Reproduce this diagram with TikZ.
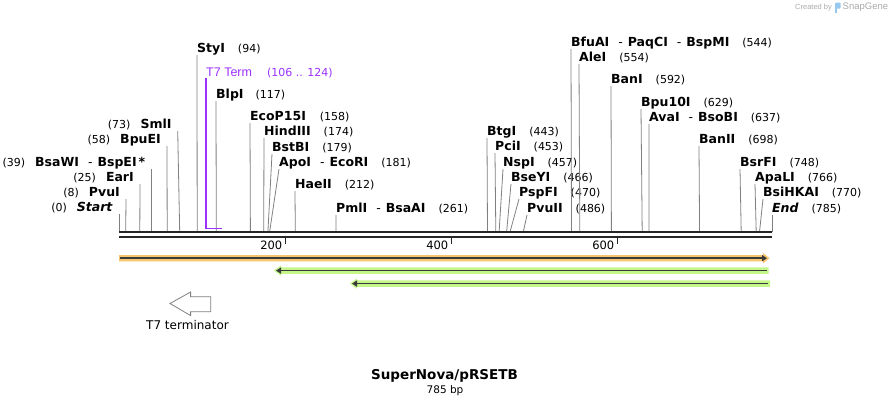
\documentclass[tikz,border=0pt]{standalone}
\usepackage{fontspec}
\setmainfont{DejaVu Sans}
\newfontfamily\featfont{Liberation Sans}
\usetikzlibrary{arrows.meta}

\definecolor{cutgray}{RGB}{128,128,128}
\definecolor{barline}{RGB}{58,58,58}
\definecolor{termpurple}{RGB}{155,48,255}
\definecolor{orfshade}{RGB}{247,196,110}
\definecolor{primershade}{RGB}{196,246,138}
\definecolor{logogray}{RGB}{170,170,170}
\definecolor{logoblue}{RGB}{150,200,240}

\newcommand{\bp}[1]{{\fontsize{11}{13}\selectfont(#1)}}
\newcommand{\ez}[1]{\textbf{#1}}

\tikzset{
    site/.style={anchor=south west, inner xsep=0pt, inner ysep=2pt,
        text depth=0pt, font=\fontsize{12.5}{14}\selectfont},
    lsite/.style={site, anchor=south east, inner xsep=6pt},
    cut/.style={draw=cutgray, line width=0.8pt},
    backbone/.style={draw=black!85, line width=2pt},
    tick/.style={draw=black!85, line width=1.6pt},
    ticklabel/.style={anchor=east, inner sep=0pt, font=\fontsize{11.5}{13}\selectfont},
    featline/.style={draw=barline, line width=1.6pt}
}

\begin{document}
\begin{tikzpicture}[x=1pt, y=-1pt]
    \useasboundingbox (0,0) rectangle (892,407);

    \coordinate (s0)   at (119.0,232);
    \coordinate (s8)   at (125.7,232);
    \coordinate (s25)  at (139.8,232);
    \coordinate (s39)  at (151.4,232);
    \coordinate (s58)  at (167.2,232);
    \coordinate (s73)  at (179.7,232);
    \coordinate (s94)  at (197.2,232);
    \coordinate (s117) at (216.3,232);
    \coordinate (s158) at (250.4,232);
    \coordinate (s174) at (263.7,232);
    \coordinate (s179) at (267.9,232);
    \coordinate (s181) at (269.6,232);
    \coordinate (s212) at (295.3,232);
    \coordinate (s261) at (336.1,232);
    \coordinate (s443) at (487.5,232);
    \coordinate (s453) at (495.8,232);
    \coordinate (s457) at (499.1,232);
    \coordinate (s466) at (506.6,232);
    \coordinate (s470) at (510.0,232);
    \coordinate (s486) at (523.3,232);
    \coordinate (s544) at (571.5,232);
    \coordinate (s554) at (579.8,232);
    \coordinate (s592) at (611.4,232);
    \coordinate (s629) at (642.2,232);
    \coordinate (s637) at (648.9,232);
    \coordinate (s698) at (699.6,232);
    \coordinate (s748) at (741.2,232);
    \coordinate (s766) at (756.2,232);
    \coordinate (s770) at (759.5,232);
    \coordinate (s785) at (772.0,232);

    \node[lsite] (start) at (119,214)   {\bp{0}\hspace{10pt}\textbf{\itshape Start}};
    \node[lsite] (pvuI)  at (126,199)   {\bp{8}\hspace{10pt}\ez{PvuI}};
    \node[lsite] (earI)  at (140,184)   {\bp{25}\hspace{10pt}\ez{EarI}};
    \node[lsite] (bsaWI) at (151.5,169) {\bp{39}\hspace{10pt}\ez{BsaWI}\hspace{9pt}-\hspace{5pt}\ez{BspEI}\,\ez{*}};
    \node[lsite] (bpuEI) at (167,146)   {\bp{58}\hspace{10pt}\ez{BpuEI}};
    \node[lsite] (smlI)  at (177.7,131) {\bp{73}\hspace{10pt}\ez{SmlI}};

    \node[site] (styI)    at (197,55)  {\ez{StyI}\hspace{13pt}\bp{94}};
    \node[site] (blpI)    at (216,101) {\ez{BlpI}\hspace{12pt}\bp{117}};
    \node[site] (ecoP)    at (250,123) {\ez{EcoP15I}\hspace{14pt}\bp{158}};
    \node[site] (hindIII) at (264,138) {\ez{HindIII}\hspace{13pt}\bp{174}};
    \node[site] (bstBI)   at (272,154) {\ez{BstBI}\hspace{13pt}\bp{179}};
    \node[site] (apoI)    at (279,169) {\ez{ApoI}\hspace{9pt}-\hspace{5pt}\ez{EcoRI}\hspace{13pt}\bp{181}};
    \node[site] (haeII)   at (295,191) {\ez{HaeII}\hspace{13pt}\bp{212}};
    \node[site] (pmlI)    at (336,215) {\ez{PmlI}\hspace{9pt}-\hspace{5pt}\ez{BsaAI}\hspace{13pt}\bp{261}};
    \node[site] (btgI)    at (487,138) {\ez{BtgI}\hspace{13pt}\bp{443}};
    \node[site] (pciI)    at (495,153) {\ez{PciI}\hspace{13pt}\bp{453}};
    \node[site] (nspI)    at (503,169) {\ez{NspI}\hspace{13pt}\bp{457}};
    \node[site] (bseYI)   at (511,184) {\ez{BseYI}\hspace{13pt}\bp{466}};
    \node[site] (pspFI)   at (519,199) {\ez{PspFI}\hspace{13pt}\bp{470}};
    \node[site] (pvuII)   at (527,215) {\ez{PvuII}\hspace{13pt}\bp{486}};
    \node[site] (bfuAI)   at (571,49)  {\ez{BfuAI}\hspace{9pt}-\hspace{5pt}\ez{PaqCI}\hspace{9pt}-\hspace{5pt}\ez{BspMI}\hspace{13pt}\bp{544}};
    \node[site] (aleI)    at (579,64)  {\ez{AleI}\hspace{13pt}\bp{554}};
    \node[site] (banI)    at (611,86)  {\ez{BanI}\hspace{13pt}\bp{592}};
    \node[site] (bpu10I)  at (641,109) {\ez{Bpu10I}\hspace{13pt}\bp{629}};
    \node[site] (avaI)    at (649,124) {\ez{AvaI}\hspace{9pt}-\hspace{5pt}\ez{BsoBI}\hspace{13pt}\bp{637}};
    \node[site] (banII)   at (699,146) {\ez{BanII}\hspace{13pt}\bp{698}};
    \node[site] (bsrFI)   at (740,169) {\ez{BsrFI}\hspace{13pt}\bp{748}};
    \node[site] (apaLI)   at (755,184) {\ez{ApaLI}\hspace{13pt}\bp{766}};
    \node[site] (bsiHKAI) at (763,199) {\ez{BsiHKAI}\hspace{13pt}\bp{770}};
    \node[site] (end)     at (772,215) {\textbf{\itshape End}\hspace{13pt}\bp{785}};

    \draw[cut] (start.south east) -- (s0);
    \draw[cut] (pvuI.south east)  -- (s8);
    \draw[cut] (earI.south east)  -- (s25);
    \draw[cut] (bsaWI.south east) -- (s39);
    \draw[cut] (bpuEI.south east) -- (s58);
    \draw[cut] (smlI.south east)  -- (s73);
    \draw[cut] (styI.south west)    -- (s94);
    \draw[cut] (blpI.south west)    -- (s117);
    \draw[cut] (ecoP.south west)    -- (s158);
    \draw[cut] (hindIII.south west) -- (s174);
    \draw[cut] (bstBI.south west)   -- (s179);
    \draw[cut] (apoI.south west)    -- (s181);
    \draw[cut] (haeII.south west)   -- (s212);
    \draw[cut] (pmlI.south west)    -- (s261);
    \draw[cut] (btgI.south west)    -- (s443);
    \draw[cut] (pciI.south west)    -- (s453);
    \draw[cut] (nspI.south west)    -- (s457);
    \draw[cut] (bseYI.south west)   -- (s466);
    \draw[cut] (pspFI.south west)   -- (s470);
    \draw[cut] (pvuII.south west)   -- (s486);
    \draw[cut] (bfuAI.south west)   -- (s544);
    \draw[cut] (aleI.south west)    -- (s554);
    \draw[cut] (banI.south west)    -- (s592);
    \draw[cut] (bpu10I.south west)  -- (s629);
    \draw[cut] (avaI.south west)    -- (s637);
    \draw[cut] (banII.south west)   -- (s698);
    \draw[cut] (bsrFI.south west)   -- (s748);
    \draw[cut] (apaLI.south west)   -- (s766);
    \draw[cut] (bsiHKAI.south west) -- (s770);
    \draw[cut] (end.south west)     -- (s785);

    \node[site, text=termpurple, inner ysep=1.5pt] (t7term) at (206,78)
        {{\featfont T7 Term}\hspace{15pt}\bp{106 .. 124}};
    \coordinate (t7corner) at (206,228.5);
    \coordinate (t7stop) at (222.2,228.5);
    \draw[termpurple, line width=1.6pt] (t7term.south west) -- (t7corner) -- (t7stop);

    \draw[backbone] (119,232.3) -- (772,232.3);
    \draw[backbone] (119,236.6) -- (772,236.6);

    \coordinate (t200) at (285.4,237);
    \coordinate (t400) at (451.4,237);
    \coordinate (t600) at (617.5,237);
    \draw[tick] (t200) -- ++(0,6.5);
    \draw[tick] (t400) -- ++(0,6.5);
    \draw[tick] (t600) -- ++(0,6.5);
    \node[ticklabel] (l200) at (282.5,245) {200};
    \node[ticklabel] (l400) at (448.5,245) {400};
    \node[ticklabel] (l600) at (614.5,245) {600};

    \fill[orfshade] (119,255) -- (763,255) -- (763,253) -- (769.5,258.2)
        -- (763,263.4) -- (763,261.4) -- (119,261.4) -- cycle;
    \draw[featline, -{Triangle[length=5pt, width=6pt]}] (120,258.2) -- (767,258.2);

    \fill[primershade] (768.5,267.4) -- (281,267.4) -- (281,265.4) -- (274,270.6)
        -- (281,275.8) -- (281,273.8) -- (768.5,273.8) -- cycle;
    \draw[featline, {Triangle[length=5pt, width=6pt]}-] (276,270.6) -- (767,270.6);

    \fill[primershade] (770,280.4) -- (357,280.4) -- (357,278.4) -- (350,283.6)
        -- (357,288.8) -- (357,286.8) -- (770,286.8) -- cycle;
    \draw[featline, {Triangle[length=5pt, width=6pt]}-] (352,283.6) -- (768,283.6);

    \draw[cutgray, line width=0.8pt] (170,303.5) -- (190.6,292) -- (190.6,296.8)
        -- (210.7,296.8) -- (210.7,311.8) -- (190.6,311.8) -- (190.6,315.6) -- cycle;
    \node[font=\fontsize{12}{14}\selectfont] (t7name) at (187.5,325.5) {T7 terminator};

    \node[font=\bfseries\fontsize{13.5}{16}\selectfont] (title) at (444.5,376) {SuperNova/pRSETB};
    \node[font=\fontsize{10.5}{12}\selectfont] (size) at (445,390.5) {785 bp};

    \node[anchor=west, inner sep=0pt, text=logogray, font=\featfont\fontsize{7.5}{9}\selectfont]
        (createdby) at (795,7.5) {Created by};
    \fill[logoblue, rounded corners=1pt] (835,2.5) rectangle (840.5,8.5);
    \fill[logoblue] (835,8) rectangle (837.2,13);
    \node[anchor=west, inner sep=0pt, text=logogray, font=\featfont\fontsize{9.5}{11}\selectfont]
        (snapgene) at (842.5,7.5) {SnapGene};
\end{tikzpicture}
\end{document}
